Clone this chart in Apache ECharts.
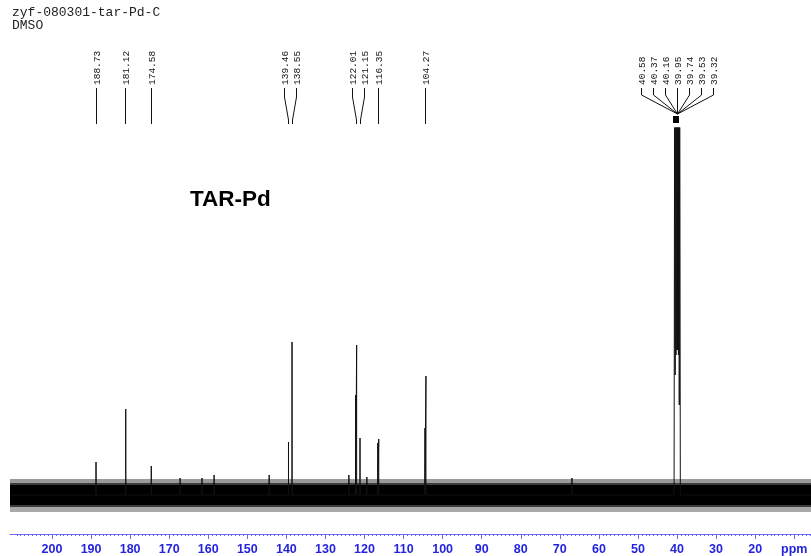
<!DOCTYPE html>
<html><head><meta charset="utf-8">
<script src="https://cdn.jsdelivr.net/npm/echarts@6/dist/echarts.min.js"></script>
<style>html,body{margin:0;padding:0;background:#fff}#c{width:811px;height:556px}</style>
</head><body><div id="c"></div>
<script>
// ---- data ----
const titleLines = ['zyf-080301-tar-Pd-C', 'DMSO'];
const sampleLabel = 'TAR-Pd';
const peakPpm = [188.73, 181.12, 174.58, 139.46, 138.55, 122.01, 121.15, 116.35, 104.27];
const peakHeight = [33, 86, 29, 53, 153, 150, 57, 56, 119];
const shoulderHeight = [0, 0, 0, 0, 0, 100, 0, 52, 67];
const solventPpm = [40.58, 40.37, 40.16, 39.95, 39.74, 39.53, 39.32];
const solventHeight = [520, 900, 1400, 1600, 1400, 900, 500];
const solventValley = [120, 140, 145, 145, 140, 90];
const spikePpm = [167.2, 161.6, 158.5, 144.4, 124.0, 119.4, 66.9];
const spikeHeight = [17, 17, 20, 20, 20, 18, 17];
const bandPpm = [210.75, 180, 150, 120, 90, 60, 45, 35, 5.7];
const bandCoreTop = [10, 10, 10, 10, 10, 10, 10, 10, 10];
const bandCoreBottom = [-10, -10, -10, -10, -10, -10, -10, -10, -10];
const bandInnerTop = [12, 12, 12, 12, 12, 12, 12, 12, 12];
const bandInnerBottom = [-12, -12, -12, -12, -12, -12, -12, -12, -12];
const bandOuterTop = [16, 16, 16, 16, 16, 16, 16, 16, 16];
const bandOuterBottom = [-17, -17, -17, -17, -17, -17, -17, -17, -17];
const majorTicks = [200, 190, 180, 170, 160, 150, 140, 130, 120, 110, 100, 90, 80, 70, 60, 50, 40, 30, 20, 10];
const tickLabels = ['200', '190', '180', '170', '160', '150', '140', '130', '120', '110', '100', '90', '80', '70', '60', '50', '40', '30', '20', 'ppm'];

// ---- build series data ----
const X_MIN = 5.7, X_MAX = 210.75;
const minorTicks = [];
for (let v = 6; v <= 210; v++) if (v % 10 !== 0) minorTicks.push(v);

const marks = [];
peakPpm.forEach((p, i) => {
  if (shoulderHeight[i] > 0) marks.push({ p: p + 0.25, h: shoulderHeight[i] });
  marks.push({ p: p, h: peakHeight[i] });
});
spikePpm.forEach((p, i) => marks.push({ p: p, h: spikeHeight[i] }));
marks.sort((a, b) => b.p - a.p);

const spec = [[X_MAX, 0]];
marks.forEach(m => spec.push([m.p, 0], [m.p, m.h], [m.p, 0]));
spec.push([solventPpm[0] + 0.17, 0]);
solventPpm.forEach((p, i) => {
  spec.push([p, solventHeight[i]]);
  if (i < solventValley.length) spec.push([(p + solventPpm[i + 1]) / 2, solventValley[i]]);
});
spec.push([solventPpm[solventPpm.length - 1] - 0.17, 0]);
spec.push([X_MIN, 0]);
spec.sort((a, b) => b[0] - a[0]);

function band(arr) { return bandPpm.map((p, i) => [p, arr[i]]); }
function bandSeries(arr, color) {
  return {
    type: 'line', data: band(arr), symbol: 'none', silent: true,
    lineStyle: { width: 0, color: color }, areaStyle: { color: color, opacity: 1 },
    xAxisIndex: 0, yAxisIndex: 0, animation: false
  };
}

const chart = echarts.init(document.getElementById('c'), null, { renderer: 'canvas' });
const axisBlue = '#6b6bf5';
const labelBlue = '#2323e0';
const baseAxis = {
  type: 'value', inverse: true, min: X_MIN, max: X_MAX, gridIndex: 0,
  position: 'bottom', offset: 19, splitLine: { show: false }
};
chart.setOption({
  animation: false,
  backgroundColor: '#ffffff',
  grid: { left: 10, right: 0, top: 128, bottom: 41, outerBoundsMode: 'none', containLabel: false },
  xAxis: [
    Object.assign({}, baseAxis, {
      axisLine: { show: true, onZero: false, lineStyle: { color: axisBlue, width: 1 } },
      axisTick: { show: true, customValues: majorTicks, length: 5, lineStyle: { color: axisBlue } },
      axisLabel: {
        show: true, customValues: majorTicks, margin: 9,
        formatter: v => tickLabels[majorTicks.indexOf(v)] || '',
        color: labelBlue, fontWeight: 'bold', fontSize: 12.5, fontFamily: 'Liberation Sans'
      }
    }),
    Object.assign({}, baseAxis, {
      axisLine: { show: false, onZero: false },
      axisTick: { show: true, customValues: minorTicks, length: 2, lineStyle: { color: axisBlue } },
      axisLabel: { show: false }
    })
  ],
  yAxis: { type: 'value', min: -20, max: 367, show: false },
  series: [
    bandSeries(bandOuterTop, '#9a9a9a'),
    bandSeries(bandOuterBottom, '#a8a8a8'),
    bandSeries(bandInnerTop, '#3c3c3c'),
    bandSeries(bandInnerBottom, '#3c3c3c'),
    bandSeries(bandCoreTop, '#000000'),
    bandSeries(bandCoreBottom, '#000000'),
    {
      type: 'line', data: spec, symbol: 'none', silent: true, clip: true,
      lineStyle: { width: 1, color: '#111' }, animation: false
    }
  ]
});

// ---- peak labels (positioned from the axis scale) ----
const allPeaks = peakPpm.concat(solventPpm).map(p => ({ p: p, px: chart.convertToPixel({ xAxisIndex: 0 }, p) }));
allPeaks.sort((a, b) => a.px - b.px);
const clusters = [];
allPeaks.forEach(k => {
  const last = clusters[clusters.length - 1];
  if (last && k.px - last[last.length - 1].px < 10) last.push(k); else clusters.push([k]);
});
const SP = 12;
const elems = [];
const r = v => Math.round(v - 0.5) + 0.5;
clusters.forEach(cl => {
  const n = cl.length;
  const c = cl.reduce((s, k) => s + k.px, 0) / n;
  cl.forEach((k, i) => {
    const lx = n === 1 ? r(k.px) : r(c + (i - (n - 1) / 2) * SP);
    elems.push({
      type: 'text', x: lx + 0.5, y: 85, rotation: Math.PI / 2, silent: true,
      style: { text: k.p.toFixed(2), fill: '#111', font: '9.5px "Liberation Mono"', align: 'left', verticalAlign: 'middle' }
    });
    let pts;
    if (n === 1) pts = [[lx, 88], [lx, 124]];
    else if (n <= 3) pts = [[lx, 88], [lx, 97], [r(k.px), 120], [r(k.px), 124]];
    else pts = [[lx, 88], [lx, 95], [r(c), 114]];
    elems.push({ type: 'polyline', silent: true, shape: { points: pts }, style: { stroke: '#111', lineWidth: 1, fill: null } });
  });
  if (n > 3) {
    elems.push({ type: 'rect', silent: true, shape: { x: Math.round(c) - 4, y: 116, width: 6, height: 7 }, style: { fill: '#000' } });
  }
});
elems.push({
  type: 'text', x: 12, y: 6, silent: true,
  style: { text: titleLines.join('\n'), fill: '#222', font: '13px "Liberation Mono"', lineHeight: 13 }
});
elems.push({
  type: 'text', x: 190, y: 188, silent: true,
  style: { text: sampleLabel, fill: '#000', font: 'bold 22.5px "Liberation Sans"' }
});
chart.setOption({ graphic: { elements: elems } });
</script>
</body></html>
